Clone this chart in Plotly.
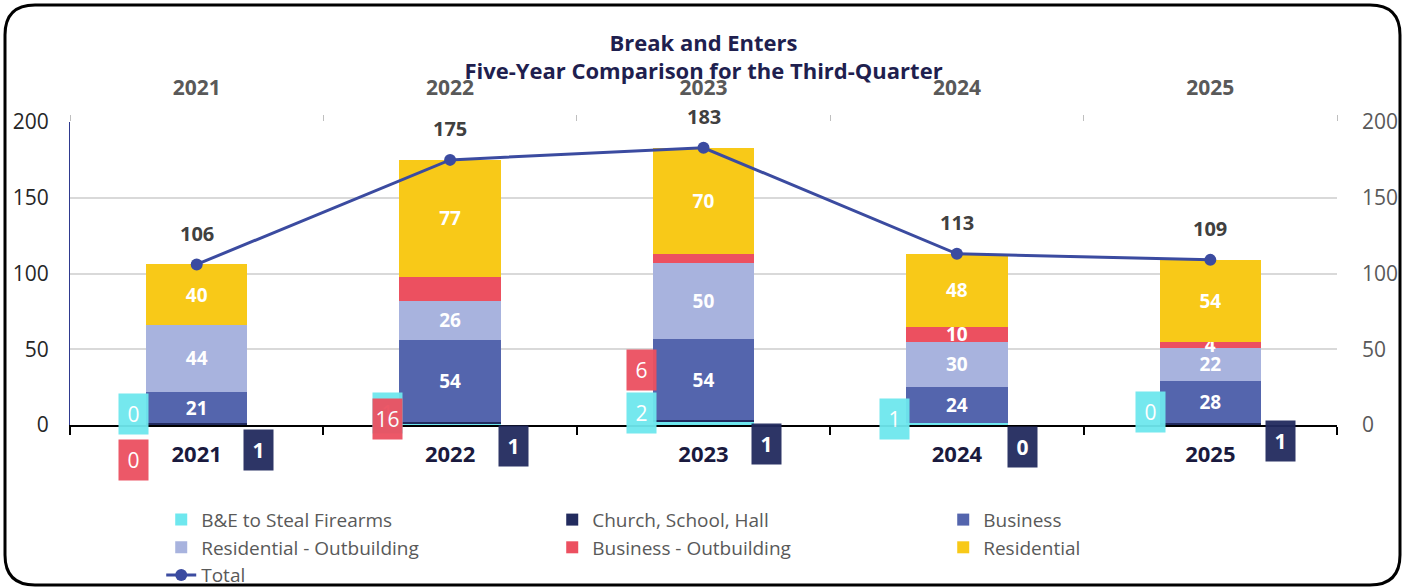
import plotly.graph_objects as go

# chart data
years = ["2021", "2022", "2023", "2024", "2025"]
firearms = [0, 1, 2, 1, 0]
church = [1, 1, 1, 0, 1]
business = [21, 54, 54, 24, 28]
res_outbuilding = [44, 26, 50, 30, 22]
bus_outbuilding = [0, 16, 6, 10, 4]
residential = [40, 77, 70, 48, 54]
total = [106, 175, 183, 113, 109]

FONT = "Open Sans"
W, H = 1408, 588
ML, MR, MT, MB = 70, 71, 122, 163
PW, PH = W - ML - MR, H - MT - MB

fig = go.Figure()

def seg_text(vals, show=None):
    return [str(v) if (show is None or show[i]) else "" for i, v in enumerate(vals)]

series = [
    ("B&E to Steal Firearms", firearms, "#6EE7EE", None),
    ("Church, School, Hall", church, "#222B5E", None),
    ("Business", business, "#5465AD", seg_text(business)),
    ("Residential - Outbuilding", res_outbuilding, "#A8B3DE", seg_text(res_outbuilding)),
    ("Business - Outbuilding", bus_outbuilding, "#EC5060",
     seg_text(bus_outbuilding, [False, False, False, True, True])),
    ("Residential", residential, "#F8C918", seg_text(residential)),
]

for name, vals, color, txt in series:
    fig.add_trace(go.Bar(
        x=years, y=vals, name=name, marker_color=color, marker_line_width=0,
        text=txt, textposition="inside" if txt else "none", textangle=0,
        insidetextanchor="middle",
        textfont=dict(family=FONT, size=19, color="white", weight="bold"),
    ))

fig.add_trace(go.Scatter(
    x=years, y=total, name="Total", mode="lines+markers",
    line=dict(color="#3B4BA0", width=3),
    marker=dict(color="#3B4BA0", size=12),
    xaxis="x2", yaxis="y2",
))

annotations = []
# total labels above the markers
for i, t in enumerate(total):
    annotations.append(dict(x=i, y=t, xref="x2", yref="y2", text=f"<b>{t}</b>",
                            showarrow=False, yshift=31,
                            font=dict(family=FONT, size=20, color="#404040")))

# callout boxes for the small segments (offsets in px from the bar base)
callouts = [
    (firearms, "#6EE7EE", [(-63, 11), (-63, 12), (-62, 12), (-62, 6), (-60, 13)], False),
    (church, "#222B5E", [(62, -25), (63, -21), (63, -19), (66, -22), (70, -16)], True),
    (bus_outbuilding, "#EC5060", [(-63, -35), (-63, 6), (-62, 55), None, None], False),
]
for vals, color, offs, bold in callouts:
    for i, (v, off) in enumerate(zip(vals, offs)):
        if off is None:
            continue
        annotations.append(dict(
            x=i, y=0, xref="x", yref="y", text=f"<b>{v}</b>" if bold else str(v),
            showarrow=False, xshift=off[0], yshift=off[1],
            bgcolor=color, opacity=0.95,
            width=27, height=38,
            font=dict(family=FONT, size=21, color="white"),
        ))

# rounded border around the whole chart
def px_to_paper(x, y):
    return (x - ML) / PW, (H - MB - y) / PH

def border_path(x0, y0, x1, y1, r):
    def P(x, y):
        a, b = px_to_paper(x, y)
        return f"{a:.5f},{b:.5f}"
    return (f"M {P(x0 + r, y0)} L {P(x1 - r, y0)} Q {P(x1, y0)} {P(x1, y0 + r)} "
            f"L {P(x1, y1 - r)} Q {P(x1, y1)} {P(x1 - r, y1)} "
            f"L {P(x0 + r, y1)} Q {P(x0, y1)} {P(x0, y1 - r)} "
            f"L {P(x0, y0 + r)} Q {P(x0, y0)} {P(x0 + r, y0)} Z")

fig.add_shape(type="path", xref="paper", yref="paper",
              path=border_path(5, 5, 1400, 585, 30),
              line=dict(color="black", width=3), layer="above")

fig.update_layout(
    width=W, height=H,
    margin=dict(l=ML, r=MR, t=MT, b=MB, autoexpand=False),
    paper_bgcolor="white", plot_bgcolor="white",
    barmode="stack", bargap=0.6,
    font=dict(family=FONT, color="#595959"),
    title=dict(text="<b>Break and Enters<br>Five-Year Comparison for the Third-Quarter</b>",
               x=0.5, xref="paper", y=0.914, yanchor="top",
               font=dict(family=FONT, size=22, color="#1F1F4F")),
    uniformtext=dict(minsize=19, mode="show"),
    showlegend=True,
    legend=dict(orientation="h", x=0.072, y=-0.25, xanchor="left", yanchor="top",
                entrywidth=346, traceorder="normal", tracegroupgap=0,
                font=dict(family=FONT, size=19, color="#595959"),
                bgcolor="rgba(0,0,0,0)"),
    xaxis=dict(type="category", range=[-0.5, 4.5], showline=True, linecolor="black",
               linewidth=2, ticks="outside", tickson="boundaries", ticklen=8,
               tickcolor="black", tickwidth=2, automargin=False,
               tickfont=dict(family=FONT, size=22, color="#1A1A3E", weight="bold"),
               ticklabelstandoff=9),
    xaxis2=dict(type="category", range=[-0.5, 4.5], overlaying="x", side="top",
                anchor="y2", showline=False, ticks="outside", tickson="boundaries",
                ticklen=6, tickcolor="#BFBFBF", tickwidth=1, showgrid=False,
                automargin=False, ticklabelstandoff=22,
                tickfont=dict(family=FONT, size=21, color="#595959", weight="bold")),
    yaxis=dict(range=[0, 200], dtick=50, showgrid=True, gridcolor="#D9D9D9",
               gridwidth=2, zeroline=False, showline=True, linecolor="#2F3A8F",
               linewidth=1, ticks="", automargin=False, ticklabelstandoff=16,
               tickfont=dict(family=FONT, size=21, color="#262626")),
    yaxis2=dict(range=[0, 200], dtick=50, overlaying="y", side="right",
                showgrid=False, zeroline=False, showline=False, ticks="",
                automargin=False, ticklabelstandoff=24,
                tickfont=dict(family=FONT, size=21, color="#595959")),
    annotations=annotations,
)

fig.write_html("out.html", config={"displayModeBar": False},
               post_script="document.body.style.margin='0px';")
